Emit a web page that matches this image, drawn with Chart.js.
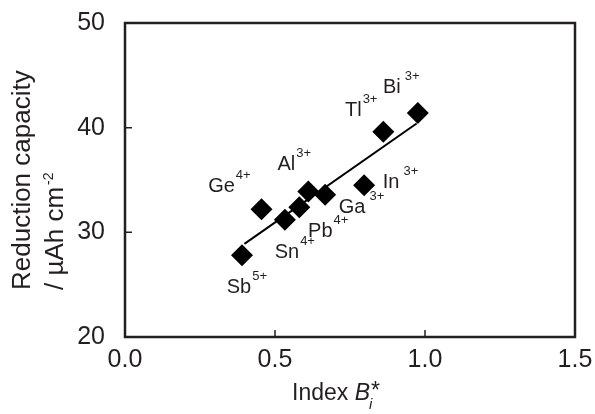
<!DOCTYPE html>
<html>
<head>
<meta charset="utf-8">
<script src="https://cdn.jsdelivr.net/npm/chart.js@4.4.0/dist/chart.umd.min.js"></script>
<style>
  html, body { margin: 0; padding: 0; background: #fff; }
  #wrap { width: 595px; height: 414px; }
</style>
</head>
<body>
<div id="wrap"><canvas id="scatterChart"></canvas></div>
<script>
// data
const ions = ['Sb', 'Ge', 'Sn', 'Pb', 'Al', 'Ga', 'In', 'Tl', 'Bi'];
const charges = ['5+', '4+', '4+', '4+', '3+', '3+', '3+', '3+', '3+'];
const chargeGap = [0, 0, 0, 0, 0, 3, 3, 0, 3];
const indexB = [0.39, 0.455, 0.533, 0.581, 0.611, 0.667, 0.797, 0.861, 0.976];
const capacity = [27.8, 32.2, 31.2, 32.4, 33.9, 33.6, 34.5, 39.6, 41.4];
const fitX = [0.398, 0.972];
const fitY = [28.9, 40.4];
const xTicks = [0, 0.5, 1.0, 1.5];
const yTicks = [20, 30, 40, 50];

// label offsets from each marker, pixels
const labelOffsets = [[-3, 32], [-40, -23], [2, 33], [21, 24], [-22, -27], [27, 13], [27, -3], [-30, -21], [-26, -26]];

const ink = '#231f20';
const fam = '"Liberation Sans", Arial, sans-serif';

const framePlugin = {
    id: 'frame',
    afterDraw(chart) {
        const { ctx, chartArea: a, scales: { x, y } } = chart;
        ctx.save();
        ctx.strokeStyle = ink;
        ctx.lineWidth = 2.5;
        ctx.strokeRect(a.left, a.top, a.right - a.left, a.bottom - a.top);
        // inward ticks
        ctx.lineWidth = 1.5;
        ctx.beginPath();
        xTicks.forEach(v => {
            const px = x.getPixelForValue(v);
            ctx.moveTo(px, a.bottom);
            ctx.lineTo(px, a.bottom - 7);
        });
        yTicks.forEach(v => {
            const py = y.getPixelForValue(v);
            ctx.moveTo(a.left, py);
            ctx.lineTo(a.left + 7, py);
        });
        ctx.stroke();

        // point labels
        ctx.fillStyle = ink;
        ctx.textBaseline = 'middle';
        ctx.textAlign = 'left';
        ions.forEach((name, i) => {
            const px = x.getPixelForValue(indexB[i]) + labelOffsets[i][0];
            const py = y.getPixelForValue(capacity[i]) + labelOffsets[i][1];
            ctx.font = '20px ' + fam;
            const w = ctx.measureText(name).width;
            ctx.fillText(name, px - w / 2, py);
            ctx.font = '13px ' + fam;
            ctx.fillText(charges[i], px + w / 2 + 1 + chargeGap[i], py - 11);
        });

        // x title: Index B_i*
        ctx.textBaseline = 'alphabetic';
        const by = 400;
        let sx = 292;
        ctx.font = '23px ' + fam;
        ctx.fillText('Index ', sx, by);
        sx += ctx.measureText('Index ').width;
        ctx.font = 'italic 23px ' + fam;
        ctx.fillText('B', sx, by);
        sx += ctx.measureText('B').width;
        ctx.font = 'italic 15px ' + fam;
        ctx.fillText('i', sx - 1, by + 9);
        ctx.font = '23px ' + fam;
        ctx.fillText('*', sx + 1, by - 2);

        // y title, two lines starting at the same point
        const cy = (a.top + a.bottom) / 2;
        ctx.translate(0, cy);
        ctx.rotate(-Math.PI / 2);
        const start = cy - 290;
        ctx.font = '26px ' + fam;
        ctx.fillText('Reduction capacity', start, 30);
        const l2 = '/ µAh cm';
        ctx.fillText(l2, start, 63);
        const wl2 = ctx.measureText(l2).width;
        ctx.font = '14px ' + fam;
        ctx.fillText('-2', start + wl2 + 2, 53);
        ctx.restore();
    }
};

const ctx = document.getElementById('scatterChart').getContext('2d');
new Chart(ctx, {
    type: 'scatter',
    data: {
        datasets: [
            {
                type: 'line',
                data: fitX.map((v, i) => ({ x: v, y: fitY[i] })),
                borderColor: '#000',
                borderWidth: 2,
                pointRadius: 0,
                fill: false
            },
            {
                data: indexB.map((v, i) => ({ x: v, y: capacity[i] })),
                pointStyle: 'rectRot',
                pointRadius: 11,
                backgroundColor: '#000',
                borderColor: '#000',
                borderWidth: 0
            }
        ]
    },
    options: {
        responsive: true,
        maintainAspectRatio: false,
        animation: false,
        layout: { padding: { top: 23, right: 20, left: 0, bottom: 0 } },
        plugins: { legend: { display: false }, tooltip: { enabled: false } },
        scales: {
            x: {
                type: 'linear', min: 0, max: 1.5,
                afterBuildTicks: s => { s.ticks = xTicks.map(v => ({ value: v })); },
                afterFit: s => { s.height = 77; s.paddingLeft = 0; s.paddingRight = 0; },
                grid: { display: false },
                border: { display: false },
                ticks: {
                    color: ink, padding: 0,
                    font: { family: fam, size: 25 },
                    callback: v => v.toFixed(1)
                }
            },
            y: {
                min: 20, max: 50,
                afterBuildTicks: s => { s.ticks = yTicks.map(v => ({ value: v })); },
                afterFit: s => { s.width = 125; s.paddingTop = 0; s.paddingBottom = 0; },
                grid: { display: false },
                border: { display: false },
                ticks: {
                    color: ink, padding: 12,
                    font: { family: fam, size: 25 }
                }
            }
        }
    },
    plugins: [framePlugin]
});
</script>
</body>
</html>
